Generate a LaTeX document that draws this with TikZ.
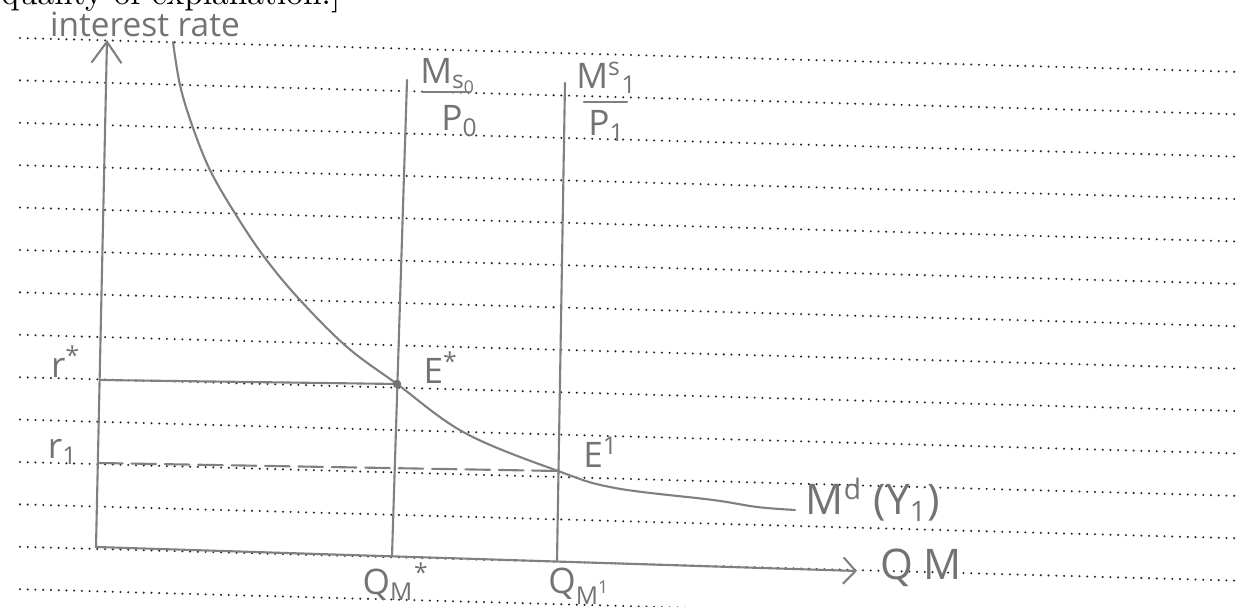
\documentclass[tikz,border=0pt]{standalone}
\usepackage{fontspec}
\newfontfamily\handfont{Open Sans}
\usetikzlibrary{arrows.meta,calc}
\tikzset{
  pencil/.style={draw=black!50, line width=0.6pt, line cap=round, line join=round},
  rowdots/.style={draw=black!85, line width=0.65pt, line cap=round, dash pattern=on 0pt off 2.2pt},
  hand/.style={text=black!55, font=\handfont\fontsize{10}{12}\selectfont, inner sep=0pt},
  bighand/.style={hand, font=\handfont\fontsize{12}{14}\selectfont},
}

\begin{document}
\begin{tikzpicture}[x=0.01cm,y=-0.01cm]
\useasboundingbox (0,0) rectangle (1241,607);
% ruled answer lines
\foreach \k in {0,...,13} \draw[rowdots] (20,{38+42.4*\k}) -- (1241,{72+42.4*\k});
\node[anchor=base east, font=\fontsize{9.5}{11}\selectfont, inner sep=0pt] (qtext) at (341,5) {quality of explanation.]};

\coordinate (O) at (96,547); \coordinate (Ytop) at (107,40); \coordinate (Xend) at (857,571);
\coordinate (S0top) at (407,80); \coordinate (S0bot) at (392,556); \coordinate (S1top) at (565,83); \coordinate (S1bot) at (557,561);
\coordinate (Es) at (397,384); \coordinate (E1) at (558,471); \coordinate (rs) at (100,380); \coordinate (r1) at (98,463);
\draw[pencil,-{Straight Barb[length=6pt,width=8.5pt]}] (O)--(Ytop);
\draw[pencil,-{Straight Barb[length=3.5pt,width=7.5pt]}] (O)--(Xend);
\draw[pencil] (S0top)--(S0bot);
\draw[pencil] (S1top)--(S1bot);
\draw[pencil] (rs)--(Es);
\draw[pencil,dash pattern=on 7pt off 2.5pt] (r1)--(E1);
\draw[pencil] plot[smooth,tension=0.6] coordinates {(173,42) (180,85) (192,125) (210,170) (236,215) (265,258) (300,300) (347,347) (Es) (465,433) (E1) (615,488) (713,500) (757,507) (795,510)};
\fill[black!55] (Es) circle (1.2pt);

\node[hand,font=\handfont\fontsize{9.5}{11}\selectfont] (irlab) at (145,24) {interest rate};
\node[hand] (ms0) at (449,76) {M\textsubscript{s\textsubscript{0}}};
\draw[pencil] (423,92) -- (470,92);
\node[hand] (p0) at (460,121) {P\textsubscript{0}};
\node[hand] (ms1) at (607,78) {M\textsuperscript{s}\textsubscript{1}};
\draw[pencil] (584,102) -- (627,102);
\node[hand] (p1) at (607,126) {P\textsubscript{1}};
\node[hand] (rslab) at (66,362) {r\textsuperscript{*}};
\node[hand] (r1lab) at (63,452) {r\textsubscript{1}};
\node[hand] (eslab) at (441,368) {E\textsuperscript{*}};
\node[hand] (e1lab) at (601,452) {E\textsuperscript{1}};
\node[bighand] (mdlab) at (873,500) {M\textsuperscript{d} (Y\textsubscript{1})};
\node[bighand] (qmlab) at (921,568) {Q M};
\node[hand] (qslab) at (396,582) {Q\textsubscript{M}\textsuperscript{*}};
\node[hand] (q1lab) at (580,586) {Q\textsubscript{M\textsuperscript{1}}};
\end{tikzpicture}
\end{document}
